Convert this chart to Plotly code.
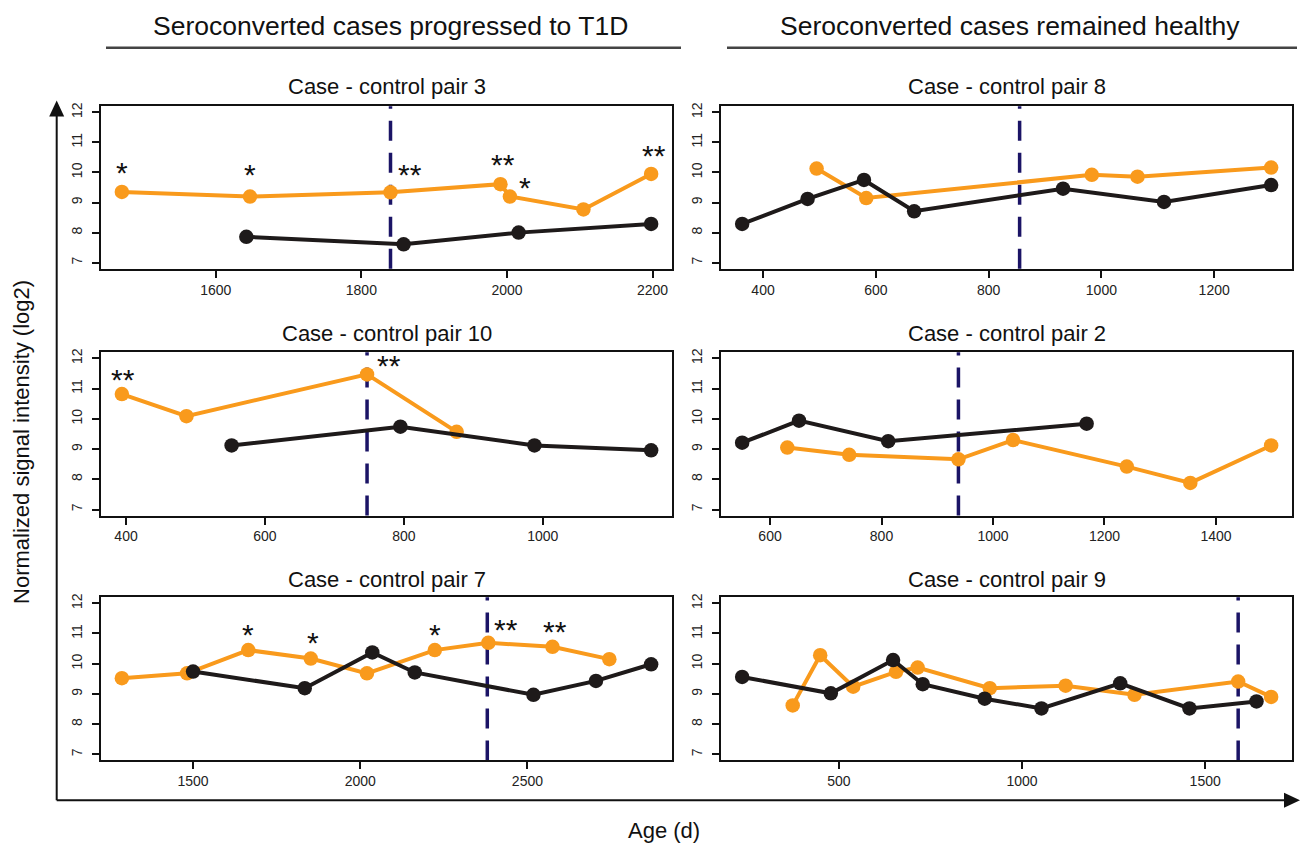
import plotly.graph_objects as go

# ---------------- data ----------------
titles = ["Case - control pair 3", "Case - control pair 8", "Case - control pair 10",
          "Case - control pair 2", "Case - control pair 7", "Case - control pair 9"]

p3_case_x = [1471, 1647, 1840, 1991, 2004, 2105, 2198]
p3_case_y = [9.35, 9.20, 9.34, 9.61, 9.20, 8.77, 9.95]
p3_ctrl_x = [1642, 1858, 2016, 2198]
p3_ctrl_y = [7.86, 7.61, 8.00, 8.29]
p3_onset = 1840
p3_star_x = [1471, 1647, 1867, 1994, 2025, 2202]
p3_star_y = [9.99, 9.92, 9.92, 10.28, 9.51, 10.57]
p3_star_t = ["*", "*", "**", "**", "*", "**"]
p3_ticks = [1600, 1800, 2000, 2200]

p8_case_x = [495, 583, 983, 1064, 1301]
p8_case_y = [10.13, 9.15, 9.92, 9.86, 10.16]
p8_ctrl_x = [363, 479, 579, 668, 932, 1111, 1301]
p8_ctrl_y = [8.29, 9.12, 9.75, 8.71, 9.46, 9.02, 9.58]
p8_onset = 855
p8_star_x, p8_star_y, p8_star_t = [], [], []
p8_ticks = [400, 600, 800, 1000, 1200]

p10_case_x = [394, 487, 747, 876]
p10_case_y = [10.82, 10.09, 11.47, 9.57]
p10_ctrl_x = [552, 795, 988, 1156]
p10_ctrl_y = [9.12, 9.74, 9.12, 8.96]
p10_onset = 747
p10_star_x = [395, 778]
p10_star_y = [11.29, 11.78]
p10_star_t = ["**", "**"]
p10_ticks = [400, 600, 800, 1000]

p2_case_x = [631, 742, 938, 1036, 1240, 1354, 1499]
p2_case_y = [9.05, 8.81, 8.66, 9.30, 8.42, 7.88, 9.12]
p2_ctrl_x = [550, 652, 812, 1168]
p2_ctrl_y = [9.21, 9.94, 9.26, 9.84]
p2_onset = 938
p2_star_x, p2_star_y, p2_star_t = [], [], []
p2_ticks = [600, 800, 1000, 1200, 1400]

p7_case_x = [1287, 1482, 1665, 1852, 2020, 2223, 2383, 2575, 2745]
p7_case_y = [9.52, 9.68, 10.45, 10.17, 9.68, 10.45, 10.69, 10.56, 10.15]
p7_ctrl_x = [1500, 1834, 2036, 2163, 2518, 2705, 2870]
p7_ctrl_y = [9.74, 9.19, 10.37, 9.71, 8.97, 9.43, 9.98]
p7_onset = 2380
p7_star_x = [1665, 1858, 2225, 2437, 2582]
p7_star_y = [10.97, 10.69, 10.97, 11.14, 11.05]
p7_star_t = ["*", "*", "*", "**", "**"]
p7_ticks = [1500, 2000, 2500]

p9_case_x = [374, 449, 539, 656, 715, 912, 1119, 1307, 1590, 1680]
p9_case_y = [8.62, 10.28, 9.24, 9.73, 9.87, 9.19, 9.27, 8.97, 9.41, 8.90]
p9_ctrl_x = [236, 478, 648, 729, 898, 1053, 1268, 1457, 1640]
p9_ctrl_y = [9.56, 9.02, 10.12, 9.32, 8.84, 8.52, 9.35, 8.52, 8.75]
p9_onset = 1590
p9_star_x, p9_star_y, p9_star_t = [], [], []
p9_ticks = [500, 1000, 1500]

y_ticks = [7, 8, 9, 10, 11, 12]
y_lim = [7, 12]

header_left = "Seroconverted cases progressed to T1D"
header_right = "Seroconverted cases remained healthy"
y_title = "Normalized signal intensity (log2)"
x_title = "Age (d)"

panels = [
    (p3_case_x, p3_case_y, p3_ctrl_x, p3_ctrl_y, p3_onset, p3_star_x, p3_star_y, p3_star_t, p3_ticks),
    (p8_case_x, p8_case_y, p8_ctrl_x, p8_ctrl_y, p8_onset, p8_star_x, p8_star_y, p8_star_t, p8_ticks),
    (p10_case_x, p10_case_y, p10_ctrl_x, p10_ctrl_y, p10_onset, p10_star_x, p10_star_y, p10_star_t, p10_ticks),
    (p2_case_x, p2_case_y, p2_ctrl_x, p2_ctrl_y, p2_onset, p2_star_x, p2_star_y, p2_star_t, p2_ticks),
    (p7_case_x, p7_case_y, p7_ctrl_x, p7_ctrl_y, p7_onset, p7_star_x, p7_star_y, p7_star_t, p7_ticks),
    (p9_case_x, p9_case_y, p9_ctrl_x, p9_ctrl_y, p9_onset, p9_star_x, p9_star_y, p9_star_t, p9_ticks),
]

# ---------------- styling / layout ----------------
W, H = 1301, 846
ORANGE = "#F99A1C"
BLACK = "#1E1A1A"
NAVY = "#1B1466"
FONT = "Liberation Sans, Arial, sans-serif"

col_px = [(100.7, 672.3), (721.0, 1292.3)]
row_px = [(102.7, 266.0), (350.0, 514.0), (596.0, 760.0)]
title_py = [83, 331, 578]


def px_x(v):
    return v / W


def px_y(v):
    return 1 - v / H


fig = go.Figure()
annotations = []
shapes = []
layout_axes = {}

for i, (cx, cy, kx, ky, onset, sx, sy, st, ticks) in enumerate(panels):
    n = i + 1
    r, c = divmod(i, 2)
    xname = "x" if n == 1 else f"x{n}"
    yname = "y" if n == 1 else f"y{n}"
    xkey = "xaxis" if n == 1 else f"xaxis{n}"
    ykey = "yaxis" if n == 1 else f"yaxis{n}"

    allx = list(cx) + list(kx)
    lo, hi = min(allx), max(allx)
    pad = 0.04 * (hi - lo)
    ypad = 0.04 * (y_lim[1] - y_lim[0])

    fig.add_trace(go.Scatter(x=cx, y=cy, mode="lines+markers", xaxis=xname, yaxis=yname,
                             line=dict(color=ORANGE, width=4),
                             marker=dict(color=ORANGE, size=14.5), showlegend=False,
                             cliponaxis=False))
    fig.add_trace(go.Scatter(x=kx, y=ky, mode="lines+markers", xaxis=xname, yaxis=yname,
                             line=dict(color=BLACK, width=4),
                             marker=dict(color=BLACK, size=14.5), showlegend=False,
                             cliponaxis=False))

    shapes.append(dict(type="line", xref=xname, yref=f"{yname} domain", x0=onset, x1=onset,
                       y0=0, y1=1, line=dict(color=NAVY, width=3.5, dash="20px,12px"),
                       layer="below"))

    for xs, ys, ts in zip(sx, sy, st):
        annotations.append(dict(x=xs, y=ys, xref=xname, yref=yname, text=ts, showarrow=False,
                                font=dict(family=FONT, size=30, color="#111"),
                                xanchor="center", yanchor="middle", yshift=0))

    x0, x1 = col_px[c]
    y0, y1 = row_px[r]
    axis_common = dict(showline=True, mirror=True, linecolor="#111", linewidth=2,
                       ticks="outside", ticklen=7, tickwidth=1.8, tickcolor="#111",
                       showgrid=False, zeroline=False,
                       tickfont=dict(family=FONT, size=14, color="#222"))
    layout_axes[xkey] = dict(domain=[px_x(x0), px_x(x1)], range=[lo - pad, hi + pad],
                             tickvals=ticks, anchor=yname, **axis_common)
    layout_axes[ykey] = dict(domain=[px_y(y1), px_y(y0)],
                             range=[y_lim[0] - ypad, y_lim[1] + ypad],
                             tickvals=y_ticks, tickangle=-90, anchor=xname,
                             ticklabelstandoff=4, **axis_common)

    annotations.append(dict(x=px_x((x0 + x1) / 2), y=px_y(title_py[r]), xref="paper", yref="paper",
                            text=titles[i], showarrow=False, xanchor="center", yanchor="middle",
                            font=dict(family=FONT, size=22, color="#111")))

# headers
annotations.append(dict(x=px_x(390), y=px_y(22), xref="paper", yref="paper", text=header_left,
                        showarrow=False, xanchor="center", yanchor="middle",
                        font=dict(family=FONT, size=26.5, color="#111")))
annotations.append(dict(x=px_x(1010), y=px_y(22), xref="paper", yref="paper", text=header_right,
                        showarrow=False, xanchor="center", yanchor="middle",
                        font=dict(family=FONT, size=26.5, color="#111")))
shapes.append(dict(type="line", xref="paper", yref="paper", x0=px_x(106), x1=px_x(681),
                   y0=px_y(44), y1=px_y(44), line=dict(color="#444", width=2.5)))
shapes.append(dict(type="line", xref="paper", yref="paper", x0=px_x(727), x1=px_x(1297),
                   y0=px_y(44), y1=px_y(44), line=dict(color="#444", width=2.5)))

# axis titles
annotations.append(dict(x=px_x(22), y=px_y(440), xref="paper", yref="paper", text=y_title,
                        showarrow=False, textangle=-90, xanchor="center", yanchor="middle",
                        font=dict(family=FONT, size=22, color="#111")))
annotations.append(dict(x=px_x(664), y=px_y(830), xref="paper", yref="paper", text=x_title,
                        showarrow=False, xanchor="center", yanchor="middle",
                        font=dict(family=FONT, size=22, color="#111")))

# big arrows
shapes.append(dict(type="line", xref="paper", yref="paper", x0=px_x(56.7), x1=px_x(56.7),
                   y0=px_y(800), y1=px_y(110), line=dict(color="#111", width=2)))
shapes.append(dict(type="line", xref="paper", yref="paper", x0=px_x(56.7), x1=px_x(1288),
                   y0=px_y(800), y1=px_y(800), line=dict(color="#111", width=2)))
shapes.append(dict(type="path", xref="paper", yref="paper",
                   path=f"M {px_x(56.7)} {px_y(97)} L {px_x(49.2)} {px_y(113)} L {px_x(64.2)} {px_y(113)} Z",
                   fillcolor="#111", line=dict(width=0)))
shapes.append(dict(type="path", xref="paper", yref="paper",
                   path=f"M {px_x(1300)} {px_y(800)} L {px_x(1284)} {px_y(792.5)} L {px_x(1284)} {px_y(807.5)} Z",
                   fillcolor="#111", line=dict(width=0)))

fig.update_layout(width=W, height=H, margin=dict(l=0, r=0, t=0, b=0),
                  paper_bgcolor="white", plot_bgcolor="white",
                  annotations=annotations, shapes=shapes, **layout_axes)

fig.write_html("out.html", config={"displayModeBar": False},
               post_script="document.body.style.margin='0px';document.body.style.padding='0px';"
                           "document.body.style.overflow='hidden';")
